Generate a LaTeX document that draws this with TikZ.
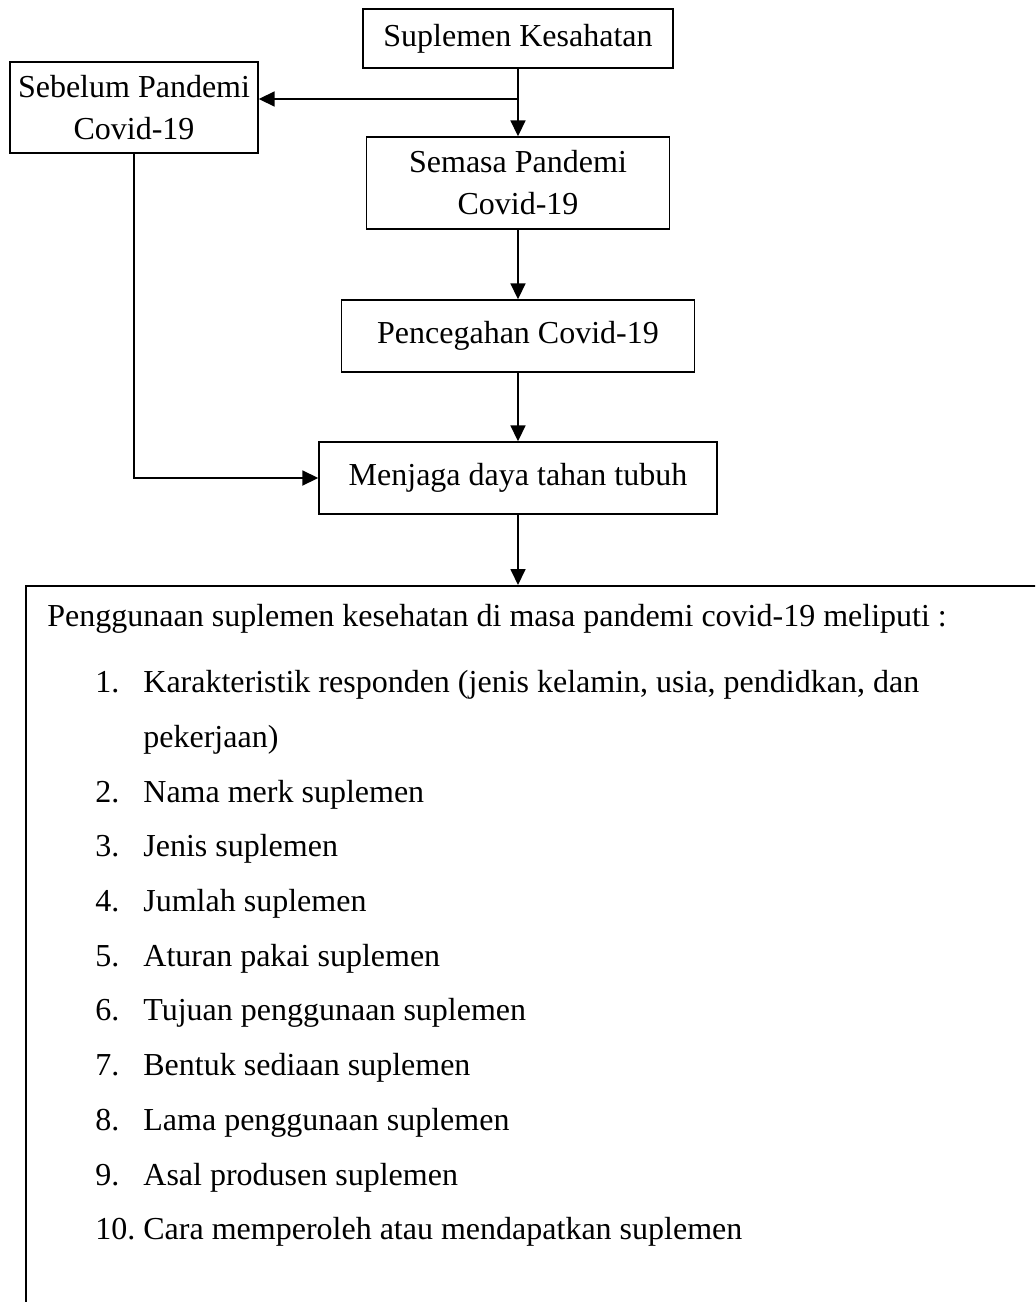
\documentclass[tikz,border=0pt]{standalone}
\usepackage{fontspec}
\setmainfont{Liberation Serif}
\usetikzlibrary{arrows.meta,positioning,calc}

\begin{document}
\begin{tikzpicture}[
    x=0.5pt, y=0.5pt,
    kotak/.style={rectangle, draw=black, line width=0.7pt, inner sep=0pt, align=center, font=\fontsize{16}{21}\selectfont},
    arrow/.style={-{Triangle[length=8pt, width=7.5pt]}, line width=0.9pt, black},
    daftar/.style={inner sep=0pt, anchor=base west, font=\fontsize{16}{27.35}\selectfont}
]

% Page frame (the big box runs off the page)
\useasboundingbox (0,0) rectangle (1035,-1302);
\clip (0,0) rectangle (1035,-1302);

% Flow boxes
\node[kotak, minimum width=155pt, minimum height=29.5pt] (suplemen) at (518,-38.5) {Suplemen Kesahatan};
\node[kotak, minimum width=124pt, minimum height=45.5pt] (sebelum) at (134,-107.5) {Sebelum Pandemi\\Covid-19};
\node[kotak, minimum width=151.5pt, minimum height=46pt] (semasa) at (518,-183) {Semasa Pandemi\\Covid-19};
\node[kotak, minimum width=176.5pt, minimum height=36pt] (pencegahan) at (518,-336) {Pencegahan Covid-19};
\node[kotak, minimum width=199pt, minimum height=36pt] (menjaga) at (518,-478) {Menjaga daya tahan tubuh};

% Big box with the list
\node[rectangle, draw=black, line width=0.9pt, anchor=north west, minimum width=560pt, minimum height=400pt] (rincian) at (25,-585) {};
\node[daftar] (isi) at (47,-626) {%
    \begin{tabular}[t]{@{}p{24pt}@{}p{24pt}@{}l@{}}
    \multicolumn{3}{@{}l@{}}{Penggunaan suplemen kesehatan di masa pandemi covid-19 meliputi :}\\[6pt]
     & 1. & Karakteristik responden (jenis kelamin, usia, pendidkan, dan\\
     &    & pekerjaan)\\
     & 2. & Nama merk suplemen\\
     & 3. & Jenis suplemen\\
     & 4. & Jumlah suplemen\\
     & 5. & Aturan pakai suplemen\\
     & 6. & Tujuan penggunaan suplemen\\
     & 7. & Bentuk sediaan suplemen\\
     & 8. & Lama penggunaan suplemen\\
     & 9. & Asal produsen suplemen\\
     & 10. & Cara memperoleh atau mendapatkan suplemen
    \end{tabular}};

% Arrows
\coordinate (cabang) at (518,-99);
\draw[arrow] (suplemen) -- (semasa);
\draw[arrow] (cabang) -- (cabang -| sebelum.east);
\draw[arrow] (semasa) -- (pencegahan);
\draw[arrow] (pencegahan) -- (menjaga);
\draw[arrow] (sebelum.south) |- (menjaga.west);
\draw[arrow] (menjaga.south) -- (menjaga.south |- rincian.north);

\end{tikzpicture}
\end{document}
